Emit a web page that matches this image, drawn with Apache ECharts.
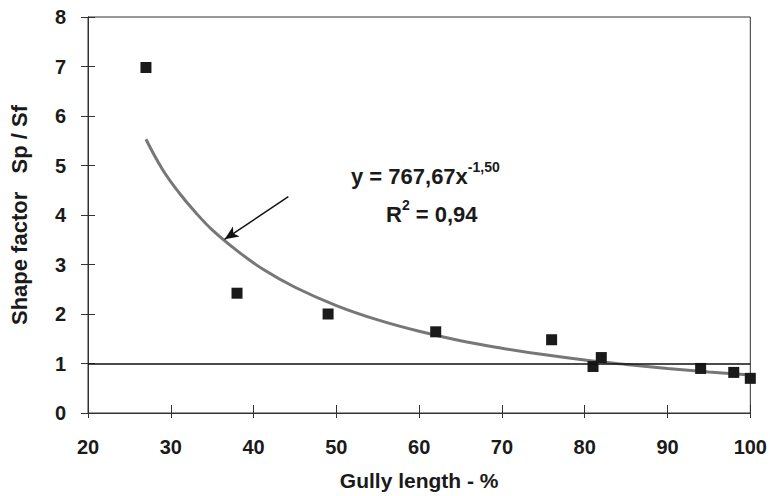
<!DOCTYPE html>
<html>
<head>
<meta charset="utf-8">
<script src="https://cdn.jsdelivr.net/npm/echarts@6/dist/echarts.min.js"></script>
<style>
  html, body { margin: 0; padding: 0; background: #fff; }
  #chart { width: 770px; height: 496px; }
</style>
</head>
<body>
<div id="chart"></div>
<script>
// measured points (gully length %, shape factor)
var pointX = [27, 38, 49, 62, 76, 81, 82, 94, 98, 100];
var pointY = [6.98, 2.42, 2.0, 1.64, 1.48, 0.94, 1.12, 0.9, 0.82, 0.7];

// power trend line
var trendX = [27, 29, 31, 33, 35, 38, 41, 45, 50, 55, 60, 65, 70, 75, 80, 85, 90, 95, 100];
var trendY = [5.53, 4.92, 4.45, 4.05, 3.7, 3.28, 2.92, 2.54, 2.17, 1.88, 1.65, 1.46, 1.31, 1.18, 1.07, 0.98, 0.9, 0.83, 0.77];

var refLevel = 1;
var arrowFrom = [44.2, 4.37];
var arrowTo = [36.5, 3.51];

(function() {
  var ink = '#1a1a1a';
  var font = '"Liberation Sans", Arial, sans-serif';

  var points = pointX.map(function(x, i) { return [x, pointY[i]]; });
  var trend = trendX.map(function(x, i) { return [x, trendY[i]]; });

  var chart = echarts.init(document.getElementById('chart'), null, { renderer: 'svg' });

  var axisBase = {
    type: 'value',
    axisLine: { show: true, lineStyle: { color: '#333', width: 1 } },
    splitLine: { show: false }
  };
  var labelStyle = { color: ink, fontFamily: font, fontWeight: 'bold', fontSize: 20 };

  chart.setOption({
    animation: false,
    grid: { left: 88, right: 18, top: 17, bottom: 81, show: true, borderColor: '#333', borderWidth: 1 },
    xAxis: [
      Object.assign({}, axisBase, {
        position: 'bottom', min: 20, max: 100, interval: 10,
        name: 'Gully length - %', nameLocation: 'center', nameGap: 57,
        nameTextStyle: { color: ink, fontFamily: font, fontWeight: 'bold', fontSize: 21 },
        axisTick: { show: true, length: 5, lineStyle: { color: '#333' } },
        axisLabel: Object.assign({ margin: 24 }, labelStyle)
      }),
      Object.assign({}, axisBase, {
        position: 'bottom', min: 20, max: 100, interval: 10,
        axisTick: { show: true, inside: true, length: 8, lineStyle: { color: '#333' } },
        axisLabel: { show: false }
      })
    ],
    yAxis: [
      Object.assign({}, axisBase, {
        position: 'left', min: 0, max: 8, interval: 1,
        name: 'Shape factor   Sp / Sf', nameLocation: 'center', nameGap: 58,
        nameTextStyle: { color: ink, fontFamily: font, fontWeight: 'bold', fontSize: 22 },
        axisTick: { show: true, length: 7, lineStyle: { color: '#333' } },
        axisLabel: Object.assign({ margin: 22 }, labelStyle)
      }),
      Object.assign({}, axisBase, {
        position: 'left', min: 0, max: 8, interval: 1,
        axisTick: { show: true, inside: true, length: 7, lineStyle: { color: '#333' } },
        axisLabel: { show: false }
      })
    ],
    series: [
      {
        type: 'line',
        data: trend,
        smooth: 0.4,
        showSymbol: false,
        lineStyle: { color: '#777', width: 3 },
        z: 2,
        markLine: {
          silent: true,
          symbol: ['none', 'none'],
          label: { show: false },
          lineStyle: { color: '#111', width: 1.5, type: 'solid' },
          data: [{ yAxis: refLevel }]
        }
      },
      {
        type: 'scatter',
        data: points,
        symbol: 'rect',
        symbolSize: 11,
        itemStyle: { color: ink, opacity: 1 },
        z: 3,
        markLine: {
          silent: true,
          symbol: ['none', 'arrow'],
          symbolSize: [9, 14],
          label: { show: false },
          lineStyle: { color: '#111', width: 1.5, type: 'solid' },
          data: [[{ coord: arrowFrom }, { coord: arrowTo }]]
        }
      }
    ],
    graphic: [
      {
        type: 'text',
        left: 351, top: 160,
        style: {
          text: '{b|y = 767,67x}{s|-1,50}',
          rich: {
            b: { fontFamily: font, fontWeight: 'bold', fontSize: 22, fill: ink, verticalAlign: 'bottom' },
            s: { fontFamily: font, fontWeight: 'bold', fontSize: 14, fill: ink, verticalAlign: 'top', padding: [0, 0, 13, 0] }
          }
        }
      },
      {
        type: 'text',
        left: 386, top: 198,
        style: {
          text: '{b|R}{s|2}{b| = 0,94}',
          rich: {
            b: { fontFamily: font, fontWeight: 'bold', fontSize: 22, fill: ink, verticalAlign: 'bottom' },
            s: { fontFamily: font, fontWeight: 'bold', fontSize: 14, fill: ink, verticalAlign: 'top', padding: [0, 0, 13, 0] }
          }
        }
      }
    ]
  });
  window.addEventListener('resize', function() { chart.resize(); });
})();
</script>
</body>
</html>
